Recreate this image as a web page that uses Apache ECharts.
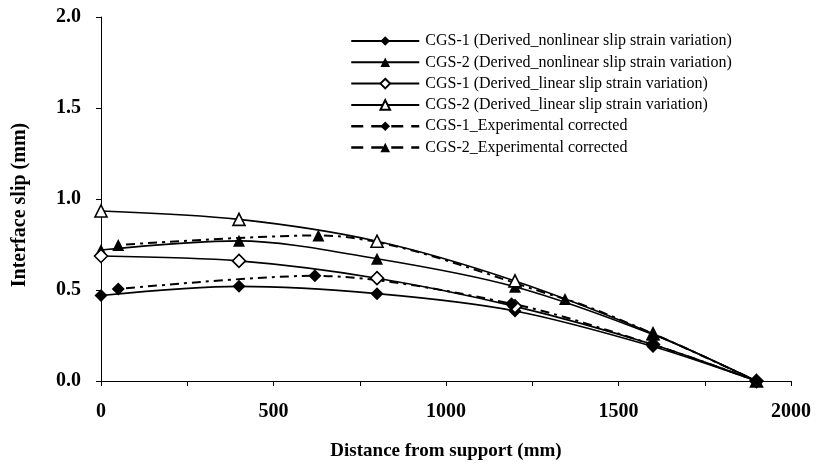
<!DOCTYPE html>
<html>
<head>
<meta charset="utf-8">
<script src="https://cdn.jsdelivr.net/npm/echarts@6/dist/echarts.min.js"></script>
<style>html,body{margin:0;padding:0;background:#fff;}#chart{width:817px;height:465px;}</style>
</head>
<body>
<div id="chart"></div>
<script>
// Data
var seriesNames = [
  'CGS-1 (Derived_nonlinear slip strain variation)',
  'CGS-2 (Derived_nonlinear slip strain variation)',
  'CGS-1 (Derived_linear slip strain variation)',
  'CGS-2 (Derived_linear slip strain variation)',
  'CGS-1_Experimental corrected',
  'CGS-2_Experimental corrected'
];
var derivedX = [0, 400, 800, 1200, 1600, 1900];
var cgs1Nonlinear = [0.47, 0.52, 0.48, 0.385, 0.19, 0];
var cgs2Nonlinear = [0.72, 0.77, 0.672, 0.518, 0.255, 0];
var cgs1Linear = [0.687, 0.66, 0.565, 0.41, 0.2, 0];
var cgs2Linear = [0.934, 0.888, 0.768, 0.55, 0.26, 0];
var exp1X = [50, 620, 1190, 1600, 1900];
var cgs1Exp = [0.505, 0.578, 0.425, 0.2, 0];
var exp2X = [50, 630, 1345, 1600, 1900];
var cgs2Exp = [0.747, 0.80, 0.45, 0.26, 0];
var xTicks = [0, 500, 1000, 1500, 2000];
var yTicks = [0.0, 0.5, 1.0, 1.5, 2.0];

function pairs(xs, ys) { return xs.map(function (x, i) { return [x, ys[i]]; }); }

var serif = '"Liberation Serif", "Times New Roman", serif';
function mk(name, data, symbol, hollow, dash) {
  return {
    name: name, type: 'line', data: data, smooth: 0.3,
    symbol: symbol, symbolSize: symbol === 'diamond' ? 13 : 12,
    showSymbol: true,
    lineStyle: { color: '#000', width: dash ? 2 : 1.6, type: dash || 'solid' },
    itemStyle: { color: hollow ? '#fff' : '#000', borderColor: '#000', borderWidth: hollow ? 1.6 : 0 },
    emphasis: { disabled: true },
    animation: false
  };
}

var legendData = seriesNames.map(function (n, i) {
  return i >= 4 ? { name: n, lineStyle: { type: [12, 8], width: 2.5 } } : { name: n };
});

var chart = echarts.init(document.getElementById('chart'), null, { renderer: 'canvas' });
chart.setOption({
  backgroundColor: '#fff',
  animation: false,
  grid: { left: 101, right: 26, top: 17, bottom: 84, containLabel: false, outerBoundsMode: 'none' },
  legend: {
    data: legendData,
    orient: 'vertical',
    left: 345, top: 28,
    itemWidth: 68, itemHeight: 12, itemGap: 5.3,
    textStyle: { fontFamily: serif, fontSize: 16, color: '#000', padding: [0, 0, 0, 1] },
    inactiveColor: '#000'
  },
  xAxis: {
    type: 'value', min: 0, max: 2000, interval: 250,
    name: 'Distance from support (mm)', nameLocation: 'middle', nameGap: 61,
    nameTextStyle: { fontFamily: serif, fontWeight: 'bold', fontSize: 19, color: '#000' },
    axisLine: { show: true, lineStyle: { color: '#000', width: 1 } },
    axisTick: { show: true, inside: false, length: 5, lineStyle: { color: '#000' } },
    axisLabel: {
      fontFamily: serif, fontWeight: 'bold', fontSize: 20, color: '#000', margin: 21,
      formatter: function (v) { return xTicks.indexOf(v) >= 0 ? String(v) : ''; }
    },
    splitLine: { show: false }
  },
  yAxis: {
    type: 'value', min: 0, max: 2, interval: 0.5,
    name: 'Interface slip (mm)', nameLocation: 'middle', nameGap: 71, nameRotate: 90,
    nameTextStyle: { fontFamily: serif, fontWeight: 'bold', fontSize: 20, color: '#000', padding: [0, 12, 0, 0] },
    axisLine: { show: true, lineStyle: { color: '#000', width: 1 } },
    axisTick: { show: true, inside: false, length: 5, lineStyle: { color: '#000' } },
    axisLabel: {
      fontFamily: serif, fontWeight: 'bold', fontSize: 20, color: '#000', margin: 20,
      formatter: function (v) { return yTicks.indexOf(v) >= 0 ? v.toFixed(1) : ''; }
    },
    splitLine: { show: false }
  },
  series: [
    mk(seriesNames[0], pairs(derivedX, cgs1Nonlinear), 'diamond', false),
    mk(seriesNames[1], pairs(derivedX, cgs2Nonlinear), 'triangle', false),
    mk(seriesNames[2], pairs(derivedX, cgs1Linear), 'diamond', true),
    mk(seriesNames[3], pairs(derivedX, cgs2Linear), 'triangle', true),
    mk(seriesNames[4], pairs(exp1X, cgs1Exp), 'diamond', false, [3, 5, 9, 5]),
    mk(seriesNames[5], pairs(exp2X, cgs2Exp), 'triangle', false, [3, 5, 9, 5])
  ]
});
</script>
</body>
</html>
